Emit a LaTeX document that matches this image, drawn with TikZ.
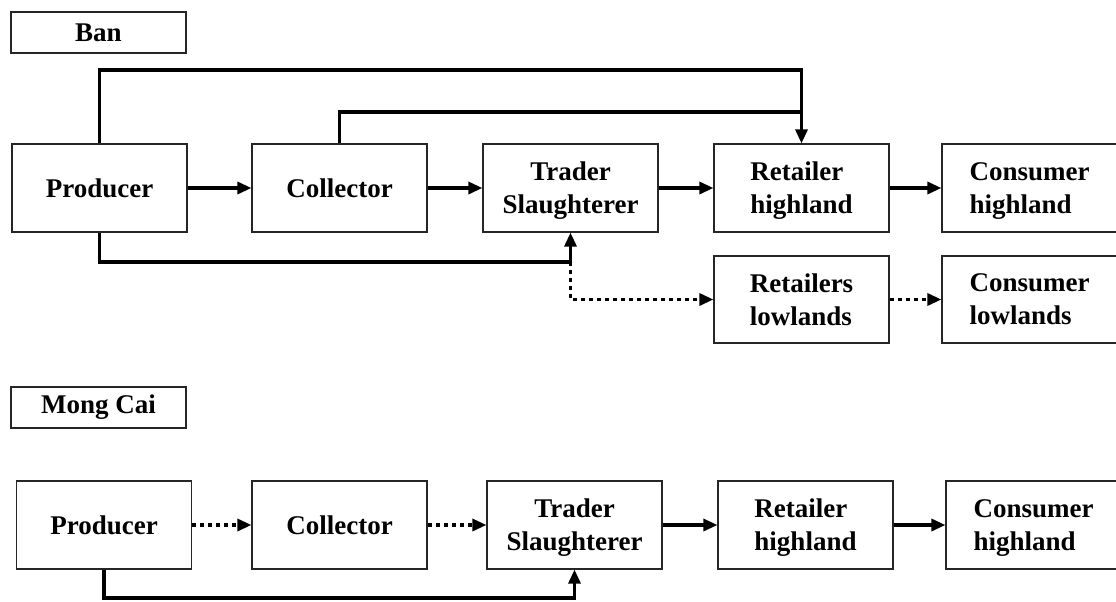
\documentclass[tikz,border=0pt]{standalone}
\usepackage{fontspec}
\setmainfont{Liberation Serif}
\usetikzlibrary{arrows.meta,positioning}

\tikzset{
	box/.style={draw=black!85, line width=1.2pt, minimum width=175pt, minimum height=88pt,
		inner sep=0pt, align=left, font=\fontsize{27}{33}\selectfont\bfseries},
	dbl/.style={text depth=-3pt},
	lab/.style={box, minimum height=41pt},
	conn/.style={line width=3.2pt, -{Triangle[length=14pt,width=12pt]}},
	dconn/.style={conn, dash pattern=on 4pt off 4pt},
}

\begin{document}
\begin{tikzpicture}[x=1pt, y=-1pt]
	\useasboundingbox (0,0) rectangle (1116,602);
	
	% Ban
	\node[lab] (ban) at (98.5, 32.5) {Ban};
	
	\node[box] (prodA) at (99.5, 188) {Producer};
	\node[box] (collA) at (339.5, 188) {Collector};
	\node[box, dbl, align=center] (tradA) at (570.5, 188) {Trader\\Slaughterer};
	\node[box, dbl] (retA) at (801.5, 188) {Retailer\\highland};
	\node[box, dbl] (consA) at (1029.5, 188) {Consumer\\highland};
	\node[box, dbl, minimum height=87pt] (retL) at (801.5, 299.5) {Retailers\\lowlands};
	\node[box, dbl, minimum height=87pt] (consL) at (1029.5, 299.5) {Consumer\\lowlands};
	
	\draw[conn] (prodA) -- (collA);
	\draw[conn] (collA) -- (tradA);
	\draw[conn] (tradA) -- (retA);
	\draw[conn] (retA) -- (consA);
	\draw[dconn] (retL) -- (consL);
	
	\coordinate (topA) at (801.5, 70);
	\coordinate (midA) at (801.5, 112);
	\coordinate (lowA) at (570.5, 262);
	\draw[conn] (prodA.north) |- (topA) -- (retA.north);
	\draw[line width=3.2pt] (collA.north) |- (midA);
	\draw[conn] (prodA.south) |- (lowA) -- (tradA.south);
	\draw[dconn] (lowA) |- (retL.west);
	
	% Mong Cai
	\node[lab] (mong) at (98.5, 407.5) {Mong Cai};
	
	\node[box] (prodB) at (104, 525) {Producer};
	\node[box] (collB) at (339.5, 525) {Collector};
	\node[box, dbl, align=center] (tradB) at (574.5, 525) {Trader\\Slaughterer};
	\node[box, dbl] (retB) at (805.5, 525) {Retailer\\highland};
	\node[box, dbl] (consB) at (1033.5, 525) {Consumer\\highland};
	
	\draw[dconn] (prodB) -- (collB);
	\draw[dconn] (collB) -- (tradB);
	\draw[conn] (tradB) -- (retB);
	\draw[conn] (retB) -- (consB);
	
	\coordinate (lowB) at (574.5, 598);
	\draw[conn] (prodB.south) |- (lowB) -- (tradB.south);
	
\end{tikzpicture}
\end{document}
